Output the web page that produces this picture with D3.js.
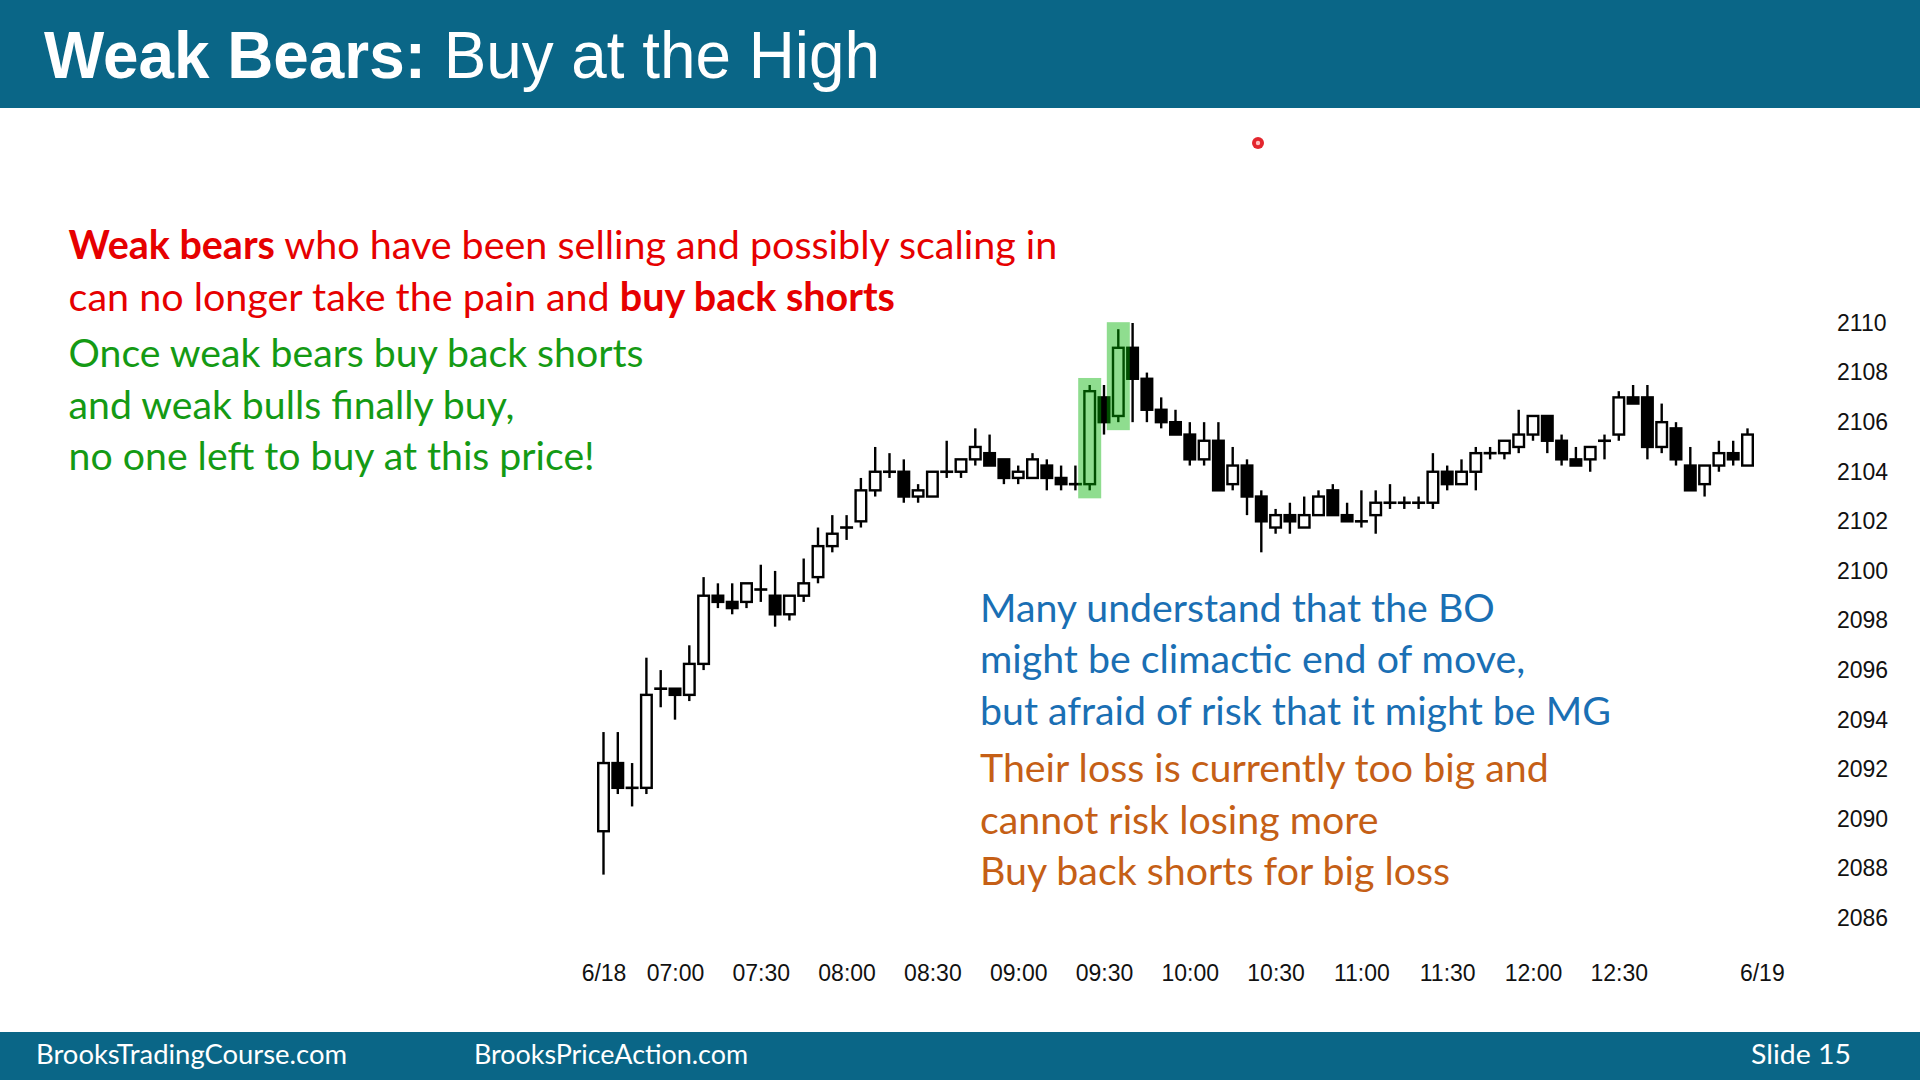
<!DOCTYPE html>
<html><head><meta charset="utf-8">
<script src="https://cdn.jsdelivr.net/npm/d3@7"></script>
<style>html,body{margin:0;padding:0;background:#fff;}svg{display:block;}</style>
</head><body>
<svg id="c" width="1920" height="1080"></svg>
<script>
// ---- data ----
const opens  = [2089.5,2092.25,2091.25,2091.25,2095.25,2095.25,2095,2096.25,2099,2098.75,2098.75,2099.25,2099,2098.25,2099,2099.75,2101,2101.75,2102,2103.25,2104,2104,2103,2103,2104,2104,2104.5,2104.75,2104.5,2103.75,2103.75,2104.25,2103.75,2103.5,2103.5,2107,2106.25,2109,2107.75,2106.5,2106,2105.5,2104.5,2105.25,2103.5,2104.25,2103,2101.75,2102.25,2101.75,2102.25,2103.25,2102.25,2102,2102.25,2102.75,2102.75,2102.75,2102.75,2104,2103.5,2104,2104.75,2104.75,2105,2105.5,2106.25,2105.25,2104.5,2104.5,2105.25,2105.5,2107,2107,2105,2105.75,2104.25,2103.5,2104.25,2104.75,2104.25];
const highs  = [2093.5,2093.5,2092.25,2096.5,2096,2095.25,2097,2099.75,2099.5,2099.5,2099.5,2100.25,2100,2099,2100.5,2101.75,2102.25,2102.25,2103.75,2105,2104.75,2104.5,2103.5,2104,2105.25,2104.5,2105.75,2105.5,2104.5,2104.25,2104.75,2104.5,2104.25,2104.25,2107.5,2107.5,2109.75,2110,2108,2107,2106.5,2106,2106,2106,2105,2104.5,2103.25,2102.5,2102.75,2103,2103.25,2103.5,2102.75,2103.25,2103.25,2103.5,2103,2103,2104.75,2104.25,2104.5,2105,2105,2105.25,2106.5,2106.25,2106.25,2105.5,2105,2105,2105.5,2107.25,2107.5,2107.5,2106.75,2106,2105,2104.25,2105.25,2105.25,2105.75];
const lows   = [2087.75,2091,2090.5,2091,2094.5,2094,2094.75,2096,2098.5,2098.25,2098.5,2098.75,2097.75,2098,2098.75,2099.5,2100.75,2101.25,2101.75,2103,2103.75,2102.75,2102.75,2103,2103.75,2103.75,2104.25,2104.25,2103.5,2103.5,2103.75,2103.25,2103.25,2103.25,2103.25,2105.5,2106,2106,2106,2105.75,2105.5,2104.25,2104.25,2103.25,2103.25,2102.25,2100.75,2101.5,2101.5,2101.75,2102.25,2102.25,2102,2101.75,2101.5,2102.5,2102.5,2102.5,2102.5,2103.25,2103.5,2103.25,2104.5,2104.5,2104.75,2105.25,2104.75,2104.25,2104.25,2104,2104.5,2105.25,2106.75,2104.5,2104.75,2104.25,2103.25,2103,2104,2104.25,2104.25];
const closes = [2092.25,2091.25,2091.25,2095,2095.25,2095,2096.25,2099,2098.75,2098.5,2099.5,2099.25,2098.25,2099,2099.5,2101,2101.5,2101.75,2103.25,2104,2104,2103,2103.25,2104,2104,2104.5,2105,2104.25,2103.75,2104,2104.5,2103.75,2103.5,2103.5,2107.25,2106,2109,2107.75,2106.5,2106,2105.5,2104.5,2105.25,2103.25,2104.25,2103,2102,2102.25,2102,2102.25,2103,2102.25,2102,2102,2102.75,2102.75,2102.75,2102.75,2104,2103.5,2104,2104.75,2104.75,2105.25,2105.5,2106.25,2105.25,2104.5,2104.25,2105,2105.25,2107,2106.75,2105,2106,2104.5,2103.25,2104.25,2104.75,2104.5,2105.5];
const highlightBars = [34, 36];
const xTickLabels = ["6/18","07:00","07:30","08:00","08:30","09:00","09:30","10:00","10:30","11:00","11:30","12:00","12:30","6/19"];
const xTickBars   = [0,5,11,17,23,29,35,41,47,53,59,65,71,81];
const yTicks = [2110,2108,2106,2104,2102,2100,2098,2096,2094,2092,2090,2088,2086];

const titleBold = "Weak Bears:";
const titleRest = " Buy at the High";
const redLines = [[["Weak bears",true],[" who have been selling and possibly scaling in",false]],
                  [["can no longer take the pain and ",false],["buy back shorts",true]]];
const greenLines = ["Once weak bears buy back shorts","and weak bulls finally buy,","no one left to buy at this price!"];
const blueLines = ["Many understand that the BO","might be climactic end of move,","but afraid of risk that it might be MG"];
const orangeLines = ["Their loss is currently too big and","cannot risk losing more","Buy back shorts for big loss"];
const footerTexts = ["BrooksTradingCourse.com","BrooksPriceAction.com","Slide  15"];

// ---- drawing ----
const svg = d3.select("#c");
const BAR = "#0a6687";
svg.append("rect").attr("x",0).attr("y",0).attr("width",1920).attr("height",1080).attr("fill","#fff");
svg.append("rect").attr("x",0).attr("y",0).attr("width",1920).attr("height",108).attr("fill",BAR);
svg.append("rect").attr("x",0).attr("y",1032).attr("width",1920).attr("height",48).attr("fill",BAR);

// title
const tt = svg.append("text").attr("x",44).attr("y",78)
  .attr("font-family","'Liberation Sans', Arial, sans-serif").attr("font-size",66).attr("fill","#fff")
  .attr("textLength",836).attr("lengthAdjust","spacingAndGlyphs");
tt.append("tspan").attr("font-weight","bold").text(titleBold);
tt.append("tspan").text(titleRest);

// text blocks, fit so the reference line matches the reference width
const BODYFONT = "Lato, 'Open Sans', sans-serif";
function block(lines, x0, baselines, color, targetW, refLine){
  const g = svg.append("g").attr("fill",color).attr("font-family",BODYFONT).attr("font-size",40);
  const texts = lines.map((ln,i)=>{
    const t = g.append("text").attr("x",x0).attr("y",baselines[i]);
    const segs = Array.isArray(ln) ? ln : [[ln,false]];
    segs.forEach(s=>t.append("tspan").attr("font-weight", s[1]?"bold":"normal").text(s[0]));
    return t;
  });
  const w = texts[refLine||0].node().getComputedTextLength();
  g.attr("font-size", 40*targetW/w);
}
block(redLines, 68.6, [259,311], "#e60000", 989);
block(greenLines, 68.6, [367,419,470], "#149a14", 575);
block(blueLines, 980, [622,673,725], "#1a6fb4", 631, 2);
block(orangeLines, 980, [782,834,885], "#c55f16", 569);

// footer
const fg = svg.append("g").attr("fill","#fff").attr("font-family",BODYFONT).attr("font-size",27);
[[36,311],[474,274],[1751,100]].forEach((p,i)=>{
  fg.append("text").attr("x",p[0]).attr("y",1064).attr("textLength",p[1]).attr("lengthAdjust","spacingAndGlyphs").text(footerTexts[i]);
});

// scales
const x = d3.scaleLinear().domain([0,80]).range([603.5,1747.5]);
const y = d3.scaleLinear().domain([2086,2110]).range([918,323]);

// axes
const ya = svg.append("g").attr("transform","translate(1837,0)")
  .call(d3.axisRight(y).tickValues(yTicks).tickSize(0).tickPadding(0).tickFormat(d3.format("d")));
ya.select(".domain").remove();
ya.selectAll("text").attr("font-family","'Liberation Sans', Arial, sans-serif").attr("font-size",23).attr("fill","#111");

const xa = svg.append("g").attr("transform","translate(0,965)")
  .call(d3.axisBottom(x).tickValues(xTickBars).tickSize(0).tickPadding(0).tickFormat((d,i)=>xTickLabels[i]));
xa.select(".domain").remove();
xa.selectAll("text").attr("font-family","'Liberation Sans', Arial, sans-serif").attr("font-size",23).attr("fill","#111");

// candles
const data = opens.map((o,i)=>({i,o,h:highs[i],l:lows[i],c:closes[i]}));
const cg = svg.append("g");
cg.selectAll("line.wick").data(data).join("line").attr("class","wick")
  .attr("x1",d=>x(d.i)).attr("x2",d=>x(d.i)).attr("y1",d=>y(d.h)).attr("y2",d=>y(d.l))
  .attr("stroke","#000").attr("stroke-width",2.4);
cg.selectAll("rect.body").data(data.filter(d=>d.o!==d.c)).join("rect").attr("class","body")
  .attr("x",d=>x(d.i)-5.3).attr("width",10.6)
  .attr("y",d=>y(Math.max(d.o,d.c))).attr("height",d=>Math.abs(y(d.o)-y(d.c)))
  .attr("fill",d=>d.c>d.o?"#fff":"#000").attr("stroke","#000").attr("stroke-width",2.4);
cg.selectAll("line.doji").data(data.filter(d=>d.o===d.c)).join("line").attr("class","doji")
  .attr("x1",d=>x(d.i)-6.5).attr("x2",d=>x(d.i)+6.5).attr("y1",d=>y(d.o)).attr("y2",d=>y(d.o))
  .attr("stroke","#000").attr("stroke-width",2.6);

// highlights
svg.append("g").selectAll("rect").data(highlightBars.map(i=>data[i])).join("rect")
  .attr("x",d=>x(d.i)-11.5).attr("width",23)
  .attr("y",d=>y(d.h)-7).attr("height",d=>y(d.l)-y(d.h)+15)
  .attr("fill","rgb(0,178,0)").attr("fill-opacity",0.44);

// pointer dot
svg.append("circle").attr("cx",1258).attr("cy",143).attr("r",6).attr("fill","#e3262e");
svg.append("circle").attr("cx",1258).attr("cy",143).attr("r",2.2).attr("fill","#ffc0c0");
</script>
</body></html>
